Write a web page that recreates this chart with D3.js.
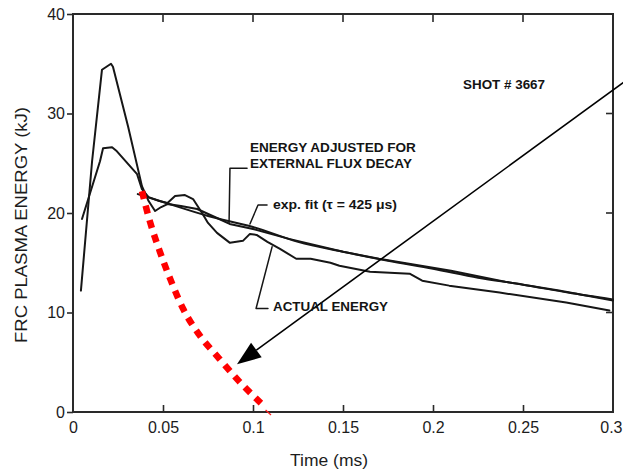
<!DOCTYPE html>
<html>
<head>
<meta charset="utf-8">
<script src="https://cdn.jsdelivr.net/npm/d3@7"></script>
<style>
  body { margin: 0; background: #fff; }
  svg { display: block; }
</style>
</head>
<body>
<svg id="chart" width="623" height="469"></svg>
<script>
// values (time in ms, energy in kJ)
const timeTicks = [0, 0.05, 0.1, 0.15, 0.2, 0.25, 0.3];
const timeTickLabels = ["0", "0.05", "0.1", "0.15", "0.2", "0.25", "0.3"];
const energyTicks = [0, 10, 20, 30, 40];
const innerTimeTicks = [0.05, 0.1, 0.15, 0.2, 0.25];
const innerEnergyTicks = [10, 20, 30];

const adjustedEnergy = [
  [0.0044, 12.2], [0.0106, 25.2], [0.0161, 34.4], [0.0211, 35.0], [0.0222, 34.7],
  [0.0306, 28.7], [0.0383, 22.7], [0.0420, 21.2], [0.0456, 20.2], [0.0490, 20.6],
  [0.0525, 20.9], [0.060, 20.7], [0.069, 20.4], [0.080, 19.5], [0.087, 18.9],
  [0.100, 18.4], [0.120, 17.4], [0.150, 16.1], [0.170, 15.4], [0.190, 14.8],
  [0.210, 14.2], [0.240, 13.1], [0.270, 12.2], [0.300, 11.2]
];

const actualEnergy = [
  [0.005, 19.4], [0.015, 25.2], [0.0167, 26.5], [0.0217, 26.6], [0.0244, 26.2],
  [0.0356, 23.9], [0.0383, 22.4], [0.042, 21.6], [0.048, 21.2], [0.0525, 21.0],
  [0.0567, 21.7], [0.0622, 21.8], [0.0667, 21.4], [0.0717, 20.0], [0.075, 19.0],
  [0.080, 18.0], [0.0872, 17.0], [0.0944, 17.2], [0.0983, 17.9], [0.102, 17.8],
  [0.108, 17.1], [0.115, 16.4], [0.124, 15.4], [0.132, 15.4], [0.143, 15.0],
  [0.148, 14.7], [0.165, 14.1], [0.187, 13.9], [0.194, 13.2], [0.209, 12.7],
  [0.237, 12.0], [0.274, 11.0], [0.298, 10.2]
];

const expFit = [
  [0.036, 21.9], [0.050, 21.1], [0.075, 19.7], [0.100, 18.6], [0.125, 17.1],
  [0.150, 16.1], [0.175, 15.2], [0.200, 14.4], [0.225, 13.5], [0.250, 12.8],
  [0.275, 12.0], [0.300, 11.3]
];

const redDecay = [
  [0.0383, 22.2], [0.0428, 19.1], [0.0483, 16.1], [0.0544, 13.2], [0.0611, 10.4],
  [0.0700, 7.8], [0.0811, 5.4], [0.0922, 3.1], [0.1044, 0.9]
];
const redTail = [[0.1070, 0.2], [0.1100, -0.3]];

const arrowLine = [[0.3094, 33.6], [0.0911, 4.8]];

const adjustedLeader = [[0.0967, 24.5], [0.0872, 24.5], [0.0867, 19.0]];
const expLeader = [[0.1078, 20.8], [0.1028, 20.8], [0.0983, 18.9]];
const actualLeader = [[0.1083, 10.4], [0.1017, 10.4], [0.1106, 16.6]];

const svg = d3.select("#chart");
const x = d3.scaleLinear().domain([0, 0.3]).range([73, 613]);
const y = d3.scaleLinear().domain([0, 40]).range([412, 14]);

const ink = "#161616";
const line = d3.line().x(d => x(d[0])).y(d => y(d[1]));
const smooth = d3.line().x(d => x(d[0])).y(d => y(d[1])).curve(d3.curveMonotoneX);

// frame
svg.append("rect")
  .attr("x", x(0)).attr("y", y(40))
  .attr("width", x(0.3) - x(0)).attr("height", y(0) - y(40))
  .attr("fill", "none").attr("stroke", "#2a2a2a").attr("stroke-width", 2);

// axes
const left = svg.append("g")
  .attr("transform", `translate(${x(0)},0)`)
  .call(d3.axisLeft(y).tickValues(energyTicks).tickSize(6).tickPadding(2).tickSizeOuter(0));

const bottom = svg.append("g")
  .attr("transform", `translate(0,${y(0)})`)
  .call(d3.axisBottom(x).tickValues(timeTicks).tickSize(-7).tickPadding(10).tickSizeOuter(0)
    .tickFormat((d, i) => timeTickLabels[i]));

[left, bottom].forEach(g => {
  g.select(".domain").remove();
  g.selectAll("line").attr("stroke", "#2a2a2a").attr("stroke-width", 1.6);
  g.selectAll("text")
    .attr("fill", "#1c1c1c")
    .style("font-family", "Liberation Sans, Arial, sans-serif")
    .style("font-size", "16px");
});
bottom.selectAll(".tick").filter(d => d === 0 || d === 0.3).select("line").remove();
// last label sits against the page edge, as in the scan
bottom.selectAll(".tick").filter(d => d === 0.3).select("text")
  .attr("text-anchor", "end").attr("x", 9);

// inward ticks on top and right
svg.append("g").selectAll("line")
  .data(innerTimeTicks).join("line")
  .attr("x1", d => x(d)).attr("x2", d => x(d))
  .attr("y1", y(40)).attr("y2", y(40) + 8)
  .attr("stroke", "#2a2a2a").attr("stroke-width", 1.6);

svg.append("g").selectAll("line")
  .data(innerEnergyTicks).join("line")
  .attr("x1", x(0.3)).attr("x2", x(0.3) - 7)
  .attr("y1", d => y(d)).attr("y2", d => y(d))
  .attr("stroke", "#2a2a2a").attr("stroke-width", 1.6);

// curves
const curves = svg.append("g").attr("fill", "none").attr("stroke", ink)
  .attr("stroke-linejoin", "round").attr("stroke-linecap", "round");

curves.append("path").attr("d", line(adjustedEnergy)).attr("stroke-width", 2);
curves.append("path").attr("d", line(actualEnergy)).attr("stroke-width", 2);
curves.append("path").attr("d", smooth(expFit)).attr("stroke-width", 2);

// leaders
[adjustedLeader, expLeader, actualLeader].forEach(pts => {
  curves.append("path").attr("d", line(pts)).attr("stroke-width", 1.5);
});

// red dotted decay
svg.append("path")
  .attr("d", smooth(redDecay))
  .attr("fill", "none")
  .attr("stroke", "#ff0000")
  .attr("stroke-width", 6.5)
  .attr("stroke-dasharray", "8 7");

svg.append("path")
  .attr("d", line(redTail))
  .attr("fill", "none")
  .attr("stroke", "#ff2020")
  .attr("stroke-width", 1.2);

// arrow
const p0 = [x(arrowLine[0][0]), y(arrowLine[0][1])];
const p1 = [x(arrowLine[1][0]), y(arrowLine[1][1])];
const ang = Math.atan2(p1[1] - p0[1], p1[0] - p0[0]);
const headLen = 24, headHalf = 9;
const base = [p1[0] - headLen * Math.cos(ang), p1[1] - headLen * Math.sin(ang)];

svg.append("line")
  .attr("x1", p0[0]).attr("y1", p0[1])
  .attr("x2", base[0]).attr("y2", base[1])
  .attr("stroke", "#000").attr("stroke-width", 1.6);

svg.append("polygon")
  .attr("points", [
    p1,
    [base[0] + headHalf * Math.sin(ang), base[1] - headHalf * Math.cos(ang)],
    [base[0] - headHalf * Math.sin(ang), base[1] + headHalf * Math.cos(ang)]
  ].map(p => p.join(",")).join(" "))
  .attr("fill", "#000");

// annotation text
const note = (t, v, str, size, len) => svg.append("text")
  .attr("x", x(t)).attr("y", y(v))
  .attr("fill", "#141414")
  .style("font-family", "Liberation Sans, Arial, sans-serif")
  .style("font-weight", "bold")
  .style("font-size", size + "px")
  .attr("textLength", len)
  .attr("lengthAdjust", "spacingAndGlyphs")
  .text(str);

note(0.2167, 32.5, "SHOT # 3667", 12.5, 82);
note(0.0983, 26.1, "ENERGY ADJUSTED FOR", 13, 166);
note(0.0983, 24.5, "EXTERNAL FLUX DECAY", 13, 162);
note(0.1111, 20.4, "exp. fit (\u03c4 = 425 \u03bcs)", 12, 124);
note(0.1111, 10.2, "ACTUAL ENERGY", 12.5, 115);

// axis titles
svg.append("text")
  .attr("transform", `translate(27,${(y(0) + y(40)) / 2 + 12}) rotate(-90)`)
  .attr("text-anchor", "middle")
  .attr("fill", "#1c1c1c")
  .style("font-family", "Liberation Sans, Arial, sans-serif")
  .style("font-size", "16px")
  .attr("textLength", 236)
  .attr("lengthAdjust", "spacingAndGlyphs")
  .text("FRC PLASMA ENERGY (kJ)");

svg.append("text")
  .attr("x", 329).attr("y", 466)
  .attr("text-anchor", "middle")
  .attr("fill", "#1c1c1c")
  .style("font-family", "Liberation Sans, Arial, sans-serif")
  .style("font-size", "16px")
  .attr("textLength", 78)
  .attr("lengthAdjust", "spacingAndGlyphs")
  .text("Time (ms)");
</script>
</body>
</html>
